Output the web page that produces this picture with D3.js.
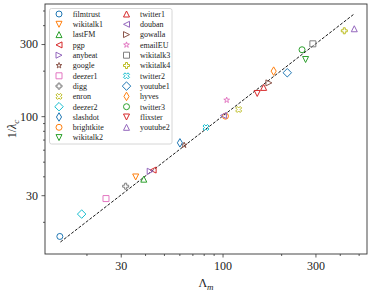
<!DOCTYPE html>
<html><head><meta charset="utf-8">
<script src="https://cdn.jsdelivr.net/npm/d3@7"></script>
<style>body{margin:0;background:#fff}svg{display:block}text{font-family:"Liberation Serif","DejaVu Serif",serif}</style>
</head><body><div id="chart"></div>
<script>
const names = ["filmtrust","wikitalk1","lastFM","pgp","anybeat","google","deezer1","digg","enron","deezer2","slashdot","brightkite","wikitalk2","twitter1","douban","gowalla","emailEU","wikitalk3","wikitalk4","twitter2","youtube1","hyves","twitter3","flixster","youtube2"];
const lambdaM = [14.6,35.8,39.4,44,42.5,63.5,25.2,31.8,121,18.9,60.4,103.5,267,162.6,101,173,105,291,422,82.2,215,183,256,150.7,475];
const invLambdaC = [16.0,39.6,38.3,44,43.2,64.3,28.5,34.4,110.7,22.5,66.6,100,237,155,101,166,127.7,301,367,84.1,193.7,198.6,275,141.3,378.6];
const markers = ["o","v","^","<",">","*","s","P","X","D","d","o","v","^","<",">","*","s","P","X","D","d","o","v","^"];
const colors = ["#1f77b4","#ff7f0e","#2ca02c","#d62728","#9467bd","#8c564b","#e377c2","#7f7f7f","#bcbd22","#17becf"];
const majorTicks = [30,100,300];
const minorTicks = [20,40,50,60,70,80,90,200,400,500];
const refLine = [14.7,470];

const W=374,H=292, L=45,R=367,T=4,B=254;
const svg=d3.select("#chart").append("svg").attr("width",W).attr("height",H);
const x=d3.scaleLog().domain([12.25,552]).range([L,R]);
const y=d3.scaleLog().domain([12.25,552]).range([B,T]);

function sym(m,s){
  const r=s/2; let pts;
  switch(m){
    case "o": return `M${r},0A${r},${r} 0 1,1 ${-r},0A${r},${r} 0 1,1 ${r},0Z`;
    case "v": pts=[[0,r],[-r,-r],[r,-r]];break;
    case "^": pts=[[0,-r],[-r,r],[r,r]];break;
    case "<": pts=[[-r,0],[r,-r],[r,r]];break;
    case ">": pts=[[r,0],[-r,-r],[-r,r]];break;
    case "s": pts=[[-r,-r],[r,-r],[r,r],[-r,r]];break;
    case "D": {const a=r*1.414; pts=[[0,-a],[a,0],[0,a],[-a,0]];break;}
    case "d": {const a=r*1.414; pts=[[0,-a],[a*0.6,0],[0,a],[-a*0.6,0]];break;}
    case "P": pts=[[-1,-3],[1,-3],[1,-1],[3,-1],[3,1],[1,1],[1,3],[-1,3],[-1,1],[-3,1],[-3,-1],[-1,-1]].map(p=>[p[0]*r/3,p[1]*r/3]);break;
    case "X": pts=[[-1,-2],[0,-1],[1,-2],[2,-1],[1,0],[2,1],[1,2],[0,1],[-1,2],[-2,1],[-1,0],[-2,-1]].map(p=>[p[0]*r/2,p[1]*r/2]);break;
    case "*": pts=[];for(let i=0;i<10;i++){const a=-Math.PI/2+i*Math.PI/5, rr=i%2?r*0.382:r; pts.push([rr*Math.cos(a),rr*Math.sin(a)]);}break;
  }
  return "M"+pts.map(p=>p[0].toFixed(2)+","+p[1].toFixed(2)).join("L")+"Z";
}
const MS=6;

// reference line
svg.append("line").attr("x1",x(refLine[0])).attr("y1",y(refLine[0])).attr("x2",x(refLine[1])).attr("y2",y(refLine[1]))
  .attr("stroke","#000").attr("stroke-width",0.9).attr("stroke-dasharray","3,1.6");

// points
const data=names.map((n,i)=>({n,x:lambdaM[i],y:invLambdaC[i],m:markers[i],c:colors[i%10]}));
svg.append("g").selectAll("path").data(data).join("path")
  .attr("transform",d=>`translate(${x(d.x)},${y(d.y)})`).attr("d",d=>sym(d.m,MS))
  .attr("fill","none").attr("stroke",d=>d.c).attr("stroke-width",1);

// axes
const ax=svg.append("g").attr("transform",`translate(0,${B})`);
ax.call(d3.axisBottom(x).tickValues(majorTicks).tickFormat(d3.format("d")).tickSize(3.5).tickPadding(3.5));
const axm=svg.append("g").attr("transform",`translate(0,${B})`);
axm.call(d3.axisBottom(x).tickValues(minorTicks).tickFormat("").tickSize(2));
const ay=svg.append("g").attr("transform",`translate(${L},0)`);
ay.call(d3.axisLeft(y).tickValues(majorTicks).tickFormat(d3.format("d")).tickSize(3.5).tickPadding(3.5));
const aym=svg.append("g").attr("transform",`translate(${L},0)`);
aym.call(d3.axisLeft(y).tickValues(minorTicks).tickFormat("").tickSize(2));
svg.selectAll(".domain").remove();
svg.selectAll(".tick line").attr("stroke","#333").attr("stroke-width",0.8);
svg.selectAll(".tick text").attr("font-size",12).attr("fill","#222").attr("font-family","Liberation Serif, DejaVu Serif, serif");

svg.append("rect").attr("x",L).attr("y",T).attr("width",R-L).attr("height",B-T).attr("fill","none").attr("stroke","#333").attr("stroke-width",0.9);

// axis labels
const xl=svg.append("text").attr("x",(L+R)/2).attr("y",287).attr("text-anchor","middle").attr("font-size",12).attr("fill","#222");
xl.append("tspan").text("Λ");
xl.append("tspan").attr("font-style","italic").attr("font-size",9).attr("dy",2.5).text("m");
const yl=svg.append("text").attr("transform",`translate(16,${(T+B)/2}) rotate(-90)`).attr("text-anchor","middle").attr("font-size",12).attr("fill","#222");
yl.append("tspan").text("1/");
yl.append("tspan").attr("font-style","italic").text("λ");
yl.append("tspan").attr("font-style","italic").attr("font-size",9).attr("dy",2.5).text("c");

// legend
const lg=svg.append("g");
lg.append("rect").attr("x",49.5).attr("y",8.5).attr("width",122.5).attr("height",135.5).attr("rx",2)
  .attr("fill","#fff").attr("fill-opacity",0.8).attr("stroke","#ccc").attr("stroke-width",0.8);
data.forEach((d,i)=>{
  const col=i<13?0:1, row=i<13?i:i-13;
  const mx=col?126.5:59, tx=col?140:72.7, cy=14+row*10.3;
  lg.append("path").attr("transform",`translate(${mx},${cy})`).attr("d",sym(d.m,MS)).attr("fill","none").attr("stroke",d.c).attr("stroke-width",1);
  lg.append("text").attr("x",tx).attr("y",cy+2.8).attr("font-size",8).attr("fill","#222").text(d.n);
});
</script></body></html>
